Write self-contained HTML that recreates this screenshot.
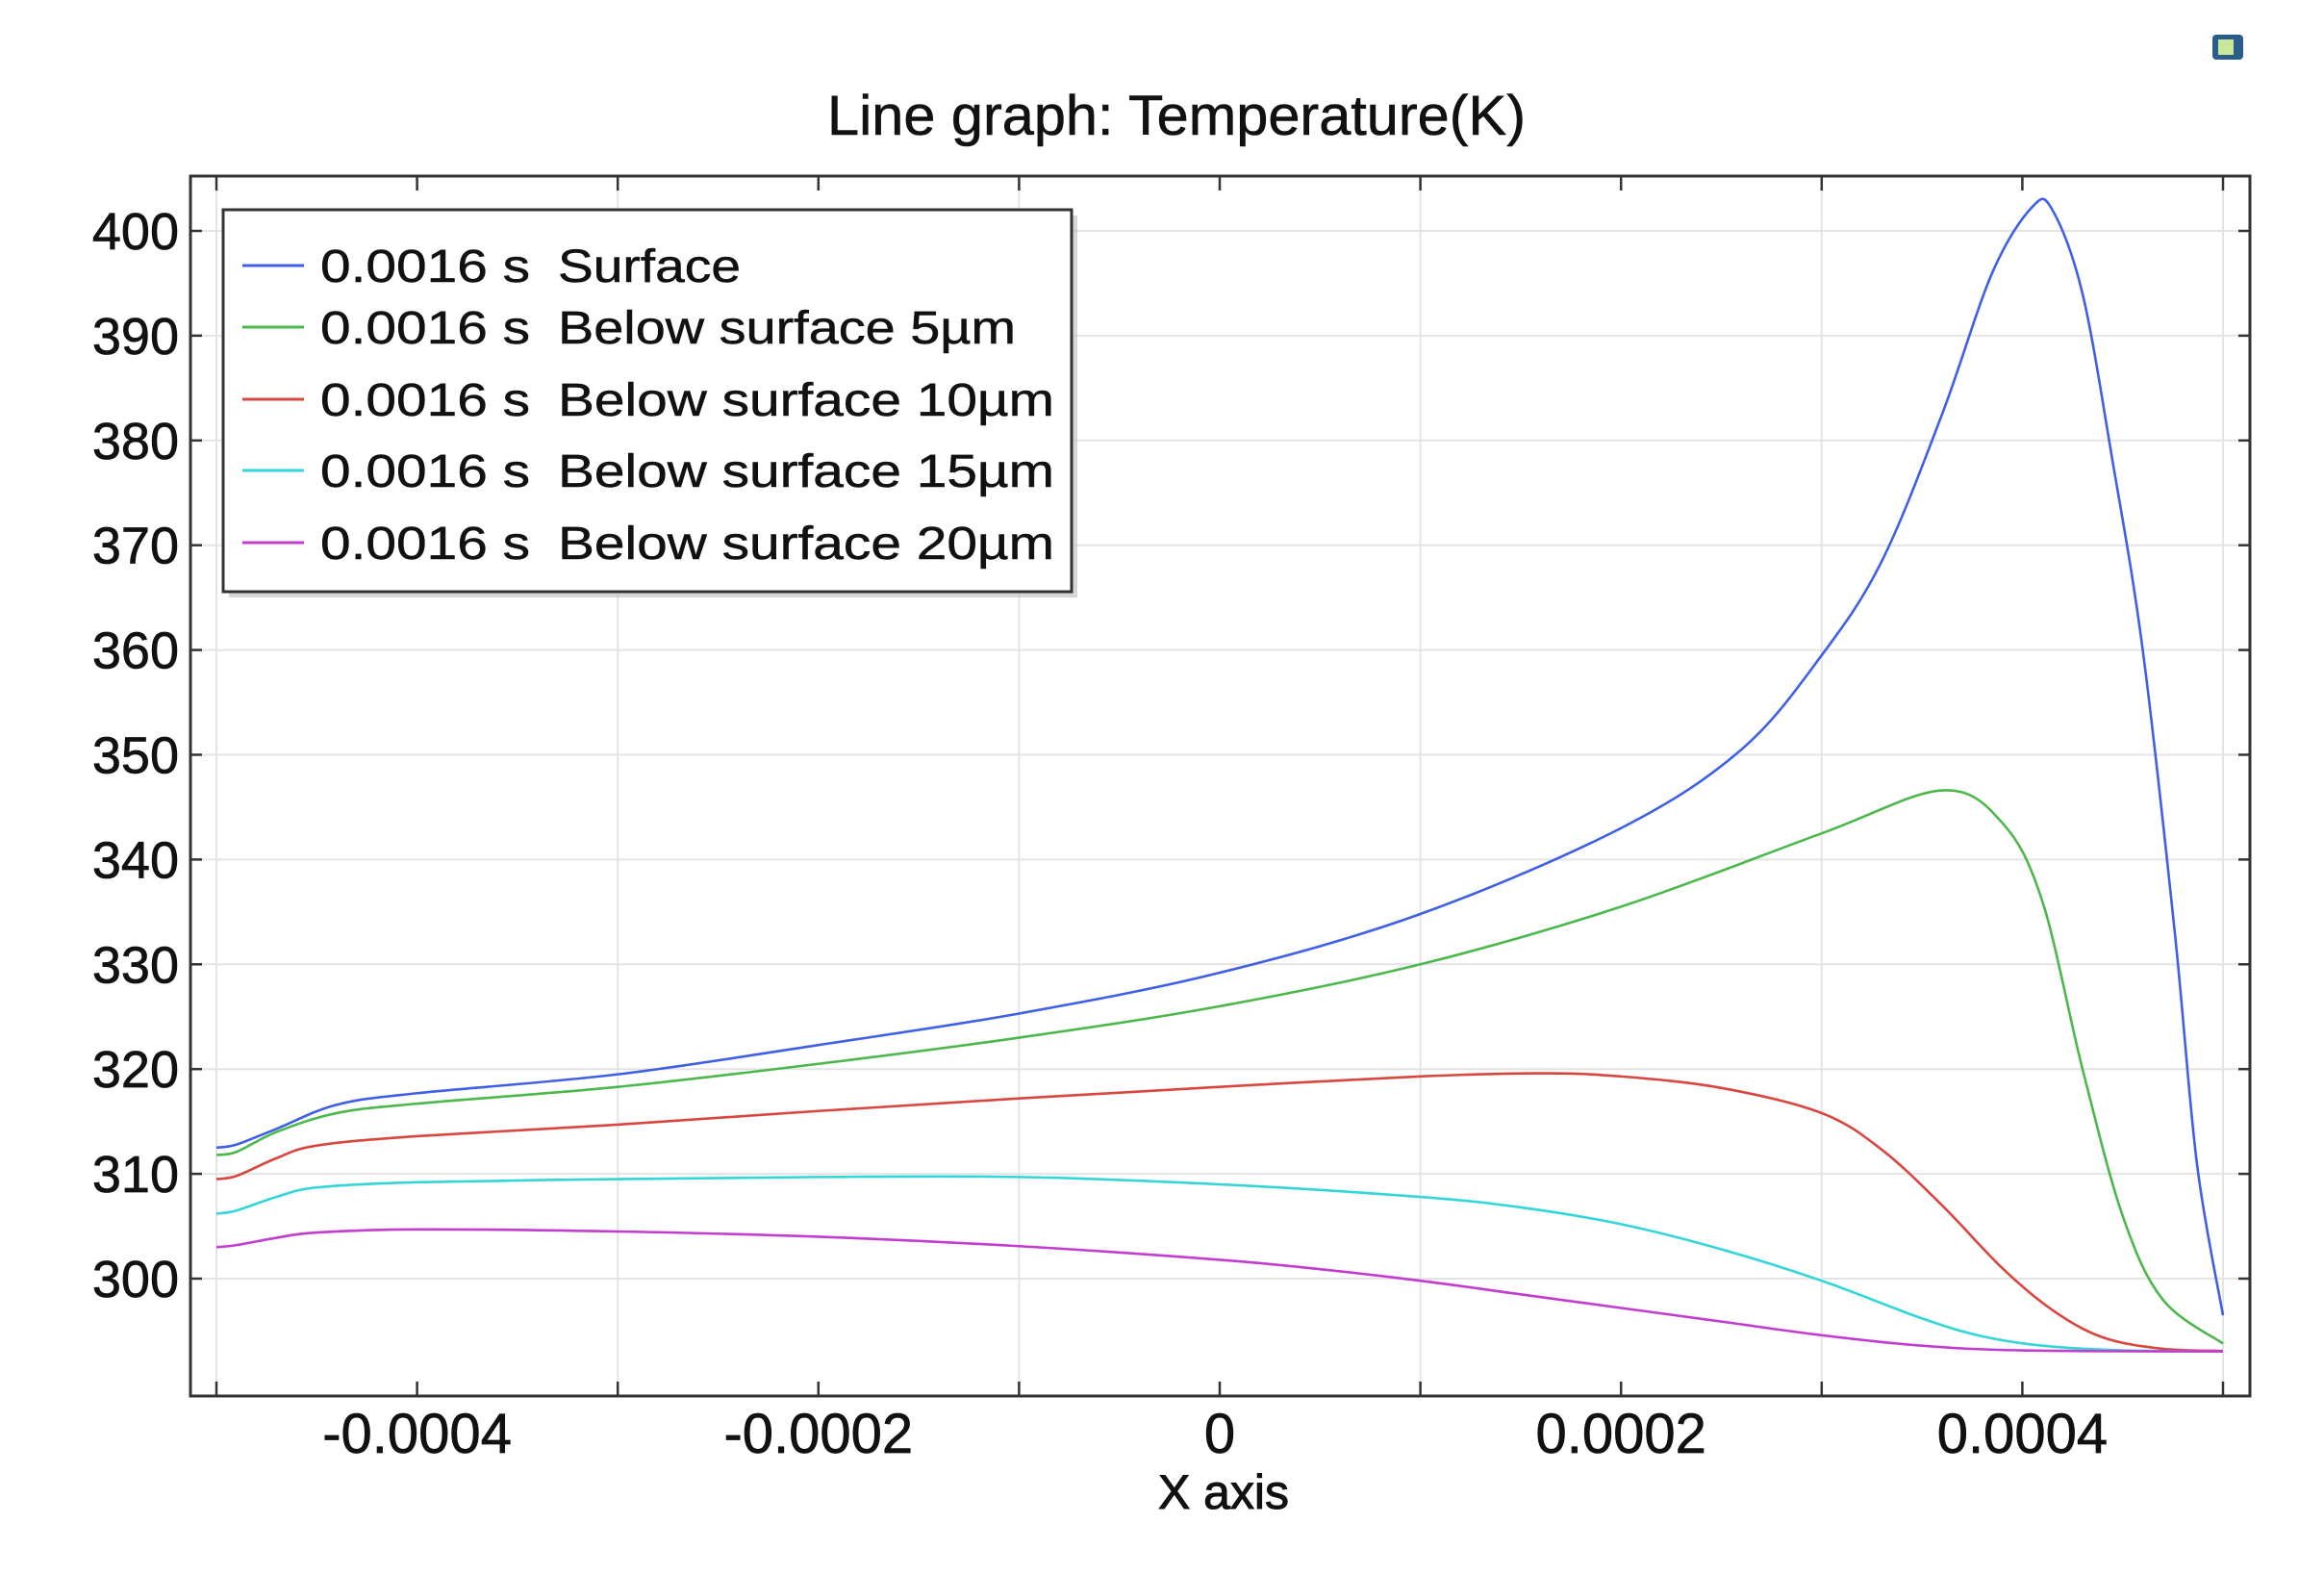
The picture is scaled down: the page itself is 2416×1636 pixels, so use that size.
<!DOCTYPE html>
<html><head><meta charset="utf-8"><style>html,body{margin:0;padding:0;background:#fff}svg{display:block}</style></head>
<body>
<svg id="s" width="2416" height="1636" viewBox="0 0 2416 1636" xmlns="http://www.w3.org/2000/svg" font-family="Liberation Sans, DejaVu Sans, sans-serif">
<rect width="2416" height="1636" fill="#fff"/>
<g id="grid" stroke="#e4e4e4" stroke-width="2"></g>
<g id="curves" fill="none" stroke-width="2.6"></g>
<rect x="198" y="183" width="2141" height="1268" fill="none" stroke="#333" stroke-width="3"/>
<g id="ticks" stroke="#333" stroke-width="2.5"></g>
<g id="labels" font-size="54" fill="#111" stroke="#111" stroke-width="0.7"></g>
<text x="860" y="140" font-size="58" textLength="726" lengthAdjust="spacingAndGlyphs" fill="#111" stroke="#111" stroke-width="0.6">Line graph: Temperature(K)</text>
<text x="1204" y="1568" font-size="50" textLength="136" lengthAdjust="spacingAndGlyphs" fill="#111" stroke="#111" stroke-width="1">X axis</text>
<rect x="2300" y="36" width="32" height="26" rx="4" fill="#2a5d8a"/>
<rect x="2306" y="41" width="16" height="16" fill="#c9e79b"/>
<rect x="238" y="224" width="882" height="397" fill="#bbb" opacity="0.6"/>
<rect x="232" y="218" width="882" height="397" fill="#fff" stroke="#333" stroke-width="3"/>
<g id="legend" font-size="48" fill="#111" stroke="#111" stroke-width="0.5"></g>
</svg>
<script>
const X=u=>1268+u*208.6, Y=t=>240+(400-t)*10.89;
const ns="http://www.w3.org/2000/svg";
function el(p,tag,a,txt){const e=document.createElementNS(ns,tag);for(const k in a)e.setAttribute(k,a[k]);if(txt!=null)e.textContent=txt;document.getElementById(p).appendChild(e);return e;}
for(let t=300;t<=400;t+=10){el("grid","line",{x1:198,x2:2339,y1:Y(t),y2:Y(t)});}
for(let u=-5;u<=5;u+=2){el("grid","line",{x1:X(u),x2:X(u),y1:183,y2:1451});}
for(let u=-5;u<=5;u++){el("ticks","line",{x1:X(u),x2:X(u),y1:1451,y2:1436});el("ticks","line",{x1:X(u),x2:X(u),y1:183,y2:198});}
for(let t=300;t<=400;t+=10){el("ticks","line",{x1:198,x2:210,y1:Y(t),y2:Y(t)});el("ticks","line",{x1:2339,x2:2327,y1:Y(t),y2:Y(t)});}
for(let t=300;t<=400;t+=10){el("labels","text",{x:186,y:Y(t)+19,"text-anchor":"end"},t);}
const xl=[[-4,"-0.0004"],[-2,"-0.0002"],[0,"0"],[2,"0.0002"],[4,"0.0004"]];
for(const [u,s] of xl){el("labels","text",{x:X(u),y:1510,"text-anchor":"middle","font-size":58},s);}
const D={
"#3f5fe6":[[-5,312.5],[-4.9,312.8],[-4.7,314.3],[-4.4,316.6],[-4,317.7],[-3,319.5],[-2,322.3],[-1,325.3],[0,329.2],[1,334.8],[2,343],[2.6,350.5],[3,359.5],[3.3,368.5],[3.6,382.5],[3.85,396],[4.05,402.3],[4.15,402],[4.3,394],[4.45,378],[4.6,360],[4.76,333],[4.87,311],[5,296.5]],
"#4cb84c":[[-5,311.8],[-4.9,312.1],[-4.7,314],[-4.4,315.8],[-4,316.7],[-3,318.3],[-2,320.5],[-1,323],[0,326],[1,330],[2,335.5],[3,342.5],[3.6,346.6],[3.9,343.5],[4.1,336],[4.3,320],[4.5,306],[4.7,298],[5,293.8]],
"#d8463f":[[-5,309.5],[-4.9,309.8],[-4.7,311.5],[-4.5,312.7],[-4,313.6],[-3,314.7],[-2,316],[-1,317.2],[0,318.3],[1,319.3],[1.6,319.6],[2,319.3],[2.5,318.2],[3,315.8],[3.3,312.3],[3.6,307],[3.9,301],[4.15,297],[4.4,294.4],[4.7,293.3],[5,293.1]],
"#33d6d6":[[-5,306.2],[-4.9,306.5],[-4.7,307.8],[-4.5,308.7],[-4,309.2],[-3,309.5],[-2,309.7],[-1,309.7],[0,309],[1,307.8],[1.5,306.8],[2,305.2],[2.5,302.8],[3,299.8],[3.5,296.2],[3.8,294.5],[4.1,293.6],[4.5,293.15],[5,293.05]],
"#c23cd0":[[-5,303],[-4.9,303.2],[-4.7,303.9],[-4.5,304.4],[-4,304.7],[-3,304.5],[-2,304],[-1,303.1],[0,301.8],[0.5,300.9],[1,299.8],[1.5,298.5],[2,297.2],[2.5,295.9],[3,294.6],[3.5,293.6],[4,293.15],[5,293.05]]};
function path(pts){const P=pts.map(p=>[X(p[0]),Y(p[1])]);let d="M"+P[0][0]+","+P[0][1];
for(let i=0;i<P.length-1;i++){const p0=P[i-1]||P[i],p1=P[i],p2=P[i+1],p3=P[i+2]||P[i+1];
const c1=[p1[0]+(p2[0]-p0[0])/6,p1[1]+(p2[1]-p0[1])/6],c2=[p2[0]-(p3[0]-p1[0])/6,p2[1]-(p3[1]-p1[1])/6];
d+=" C"+c1+" "+c2+" "+p2;}return d;}
for(const c in D){el("curves","path",{d:path(D[c]),stroke:c});}
const L=[["#3f5fe6","Surface",293,190],["#4cb84c","Below surface 5µm",357,476],["#d8463f","Below surface 10µm",432,516],["#33d6d6","Below surface 15µm",506,516],["#c23cd0","Below surface 20µm",581,516]];
for(const [c,s,b,w] of L){el("legend","line",{x1:252,x2:316,y1:b-17,y2:b-17,stroke:c,"stroke-width":3});
el("legend","text",{x:333,y:b,textLength:218,lengthAdjust:"spacingAndGlyphs"},"0.0016 s");
el("legend","text",{x:580,y:b,textLength:w,lengthAdjust:"spacingAndGlyphs"},s);}
</script>
</body></html>
